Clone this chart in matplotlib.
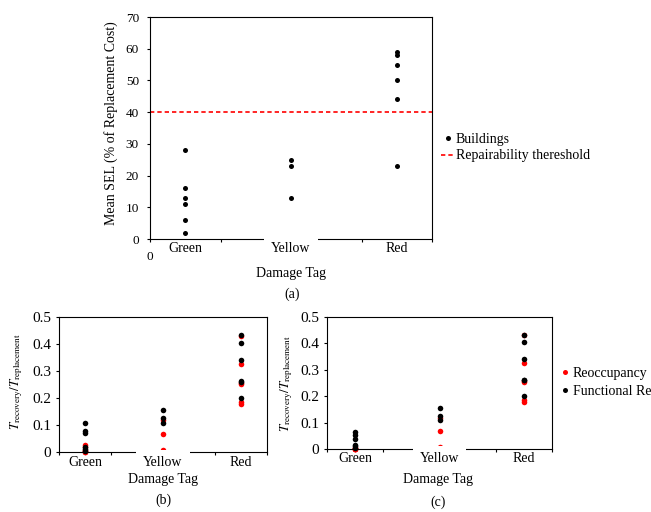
import numpy as np
import matplotlib
matplotlib.use('Agg')
import matplotlib.pyplot as plt
from matplotlib.lines import Line2D

plt.rcParams['font.family'] = ['Liberation Serif', 'DejaVu Serif']
plt.rcParams['mathtext.fontset'] = 'stix'
plt.rcParams['axes.linewidth'] = 0.8

# damage tag categories and their x positions on the hidden 0-4 axis
tag_names = ['Green', 'Yellow', 'Red']
tag_x = [0.5, 2.0, 3.5]

# (a) mean SEL (% of replacement cost) per building
sel_green = [28, 16, 13, 11, 6, 2]
sel_yellow = [25, 23, 13]
sel_red = [59, 58, 55, 50, 44, 23]
repair_threshold = 40

# (b) recovery / replacement time ratios
reocc_b_green = [0.027, 0.020, 0.006, 0.003, 0.0, 0.0]
func_b_green = [0.107, 0.078, 0.070, 0.018, 0.012, 0.005]
# (c)
reocc_c_green = [0.003, 0.002, 0.001, 0.0, 0.0, 0.0]
func_c_green = [0.064, 0.054, 0.036, 0.016, 0.010, 0.005]
# shared by (b) and (c)
reocc_yellow = [0.117, 0.067, 0.008]
func_yellow = [0.156, 0.126, 0.108]
reocc_red = [0.430, 0.327, 0.256, 0.253, 0.187, 0.178]
func_red = [0.432, 0.405, 0.342, 0.262, 0.260, 0.200]

ratio_ticks = [0, 0.1, 0.2, 0.3, 0.4, 0.5]
ratio_labels = ['0', '0.1', '0.2', '0.3', '0.4', '0.5']

W, H = 651, 512
fig = plt.figure(figsize=(W / 100, H / 100), dpi=100)


def px_axes(left, top, right, bottom):
    return fig.add_axes([left / W, 1 - bottom / H, (right - left) / W, (bottom - top) / H])


def tag_labels(ax, off, fs):
    for name, x in zip(tag_names, tag_x):
        box = None
        if name == 'Yellow':
            box = dict(facecolor='white', edgecolor='none', pad=5)
        ax.annotate(name, (x, 0), xycoords=('data', 'axes fraction'),
                    xytext=(0, off), textcoords='offset points',
                    ha='center', va='center', fontsize=fs, bbox=box, zorder=5)


def style(ax):
    ax.set_xlim(0, 4)
    ax.set_xticks([0, 1, 2, 3, 4])
    ax.tick_params(direction='out', length=2.5, width=0.8)


def stack(ax, xs, vals, color, ms):
    ax.plot([xs] * len(vals), vals, 'o', color=color, ms=ms, mew=0, clip_on=False)


# ---------------- (a) ----------------
ax = px_axes(150, 17, 432, 239)
style(ax)
ax.set_ylim(0, 70)
ax.set_yticks(np.arange(0, 71, 10))
ax.set_xticklabels(['0', '', '', '', ''])
ax.tick_params(axis='x', pad=6.5, labelsize=9.5)
ax.tick_params(axis='y', pad=5.5, labelsize=9.5)
ax.axhline(repair_threshold, color='red', lw=1.2, ls=(0, (2.6, 1.8)))
for xs, vals in zip(tag_x, [sel_green, sel_yellow, sel_red]):
    stack(ax, xs, vals, 'black', 3.6)
tag_labels(ax, -6.5, 10)
ax.set_ylabel('Mean SEL (% of Replacement Cost)', fontsize=10)
ax.yaxis.set_label_coords(-0.113, 0.52)
fig.text(291 / W, 1 - 273 / H, 'Damage Tag', ha='center', va='center', fontsize=10)
fig.text(292 / W, 1 - 294 / H, '(a)', ha='center', va='center', fontsize=10)

h_a = [Line2D([], [], ls='none', marker='o', color='black', ms=3.6, mew=0),
       Line2D([], [], color='red', lw=1.2, ls=(0, (2.6, 1.8)))]
fig.legend(h_a, ['Buildings', 'Repairability thereshold'], loc='upper left',
           bbox_to_anchor=(441 / W, 1 - 133 / H), frameon=False, fontsize=10,
           handlelength=1.0, handletextpad=0.05, labelspacing=0.25, borderpad=0,
           borderaxespad=0)

# ---------------- (b) and (c) ----------------
ylab = r'$T_{\mathrm{recovery}}/T_{\mathrm{replacement}}$'
panels = [
    ((59, 317, 267, 452), reocc_b_green, func_b_green, (-0.163, 0.52), -7.9,
     (163, 480, 500), '(b)'),
    ((327, 317, 552, 449), reocc_c_green, func_c_green, (-0.142, 0.5), -7.2,
     (438, 479, 502), '(c)'),
]
for box, rg, fg, lab_xy, off, (cx, ty, py), tag in panels:
    ax = px_axes(*box)
    style(ax)
    ax.set_ylim(0, 0.5)
    ax.set_yticks(ratio_ticks)
    ax.set_yticklabels(ratio_labels)
    ax.set_xticklabels([])
    ax.tick_params(axis='y', labelsize=11, pad=3)
    for xs, vals in zip(tag_x, [rg, reocc_yellow, reocc_red]):
        stack(ax, xs, vals, 'red', 4)
    for xs, vals in zip(tag_x, [fg, func_yellow, func_red]):
        stack(ax, xs, vals, 'black', 4)
    tag_labels(ax, off, 10)
    ax.set_ylabel(ylab, fontsize=9.4)
    ax.yaxis.set_label_coords(*lab_xy)
    fig.text(cx / W, 1 - ty / H, 'Damage Tag', ha='center', va='center', fontsize=10)
    fig.text(cx / W, 1 - py / H, tag, ha='center', va='center', fontsize=10)

h_c = [Line2D([], [], ls='none', marker='o', color='red', ms=3.6, mew=0),
       Line2D([], [], ls='none', marker='o', color='black', ms=3.6, mew=0)]
fig.legend(h_c, ['Reoccupancy', 'Functional Recovery'], loc='upper left',
           bbox_to_anchor=(559 / W, 1 - 367 / H), frameon=False, fontsize=10,
           handlelength=0.9, handletextpad=0.1, labelspacing=0.35, borderpad=0,
           borderaxespad=0)

fig.savefig('out.png', dpi=100)
